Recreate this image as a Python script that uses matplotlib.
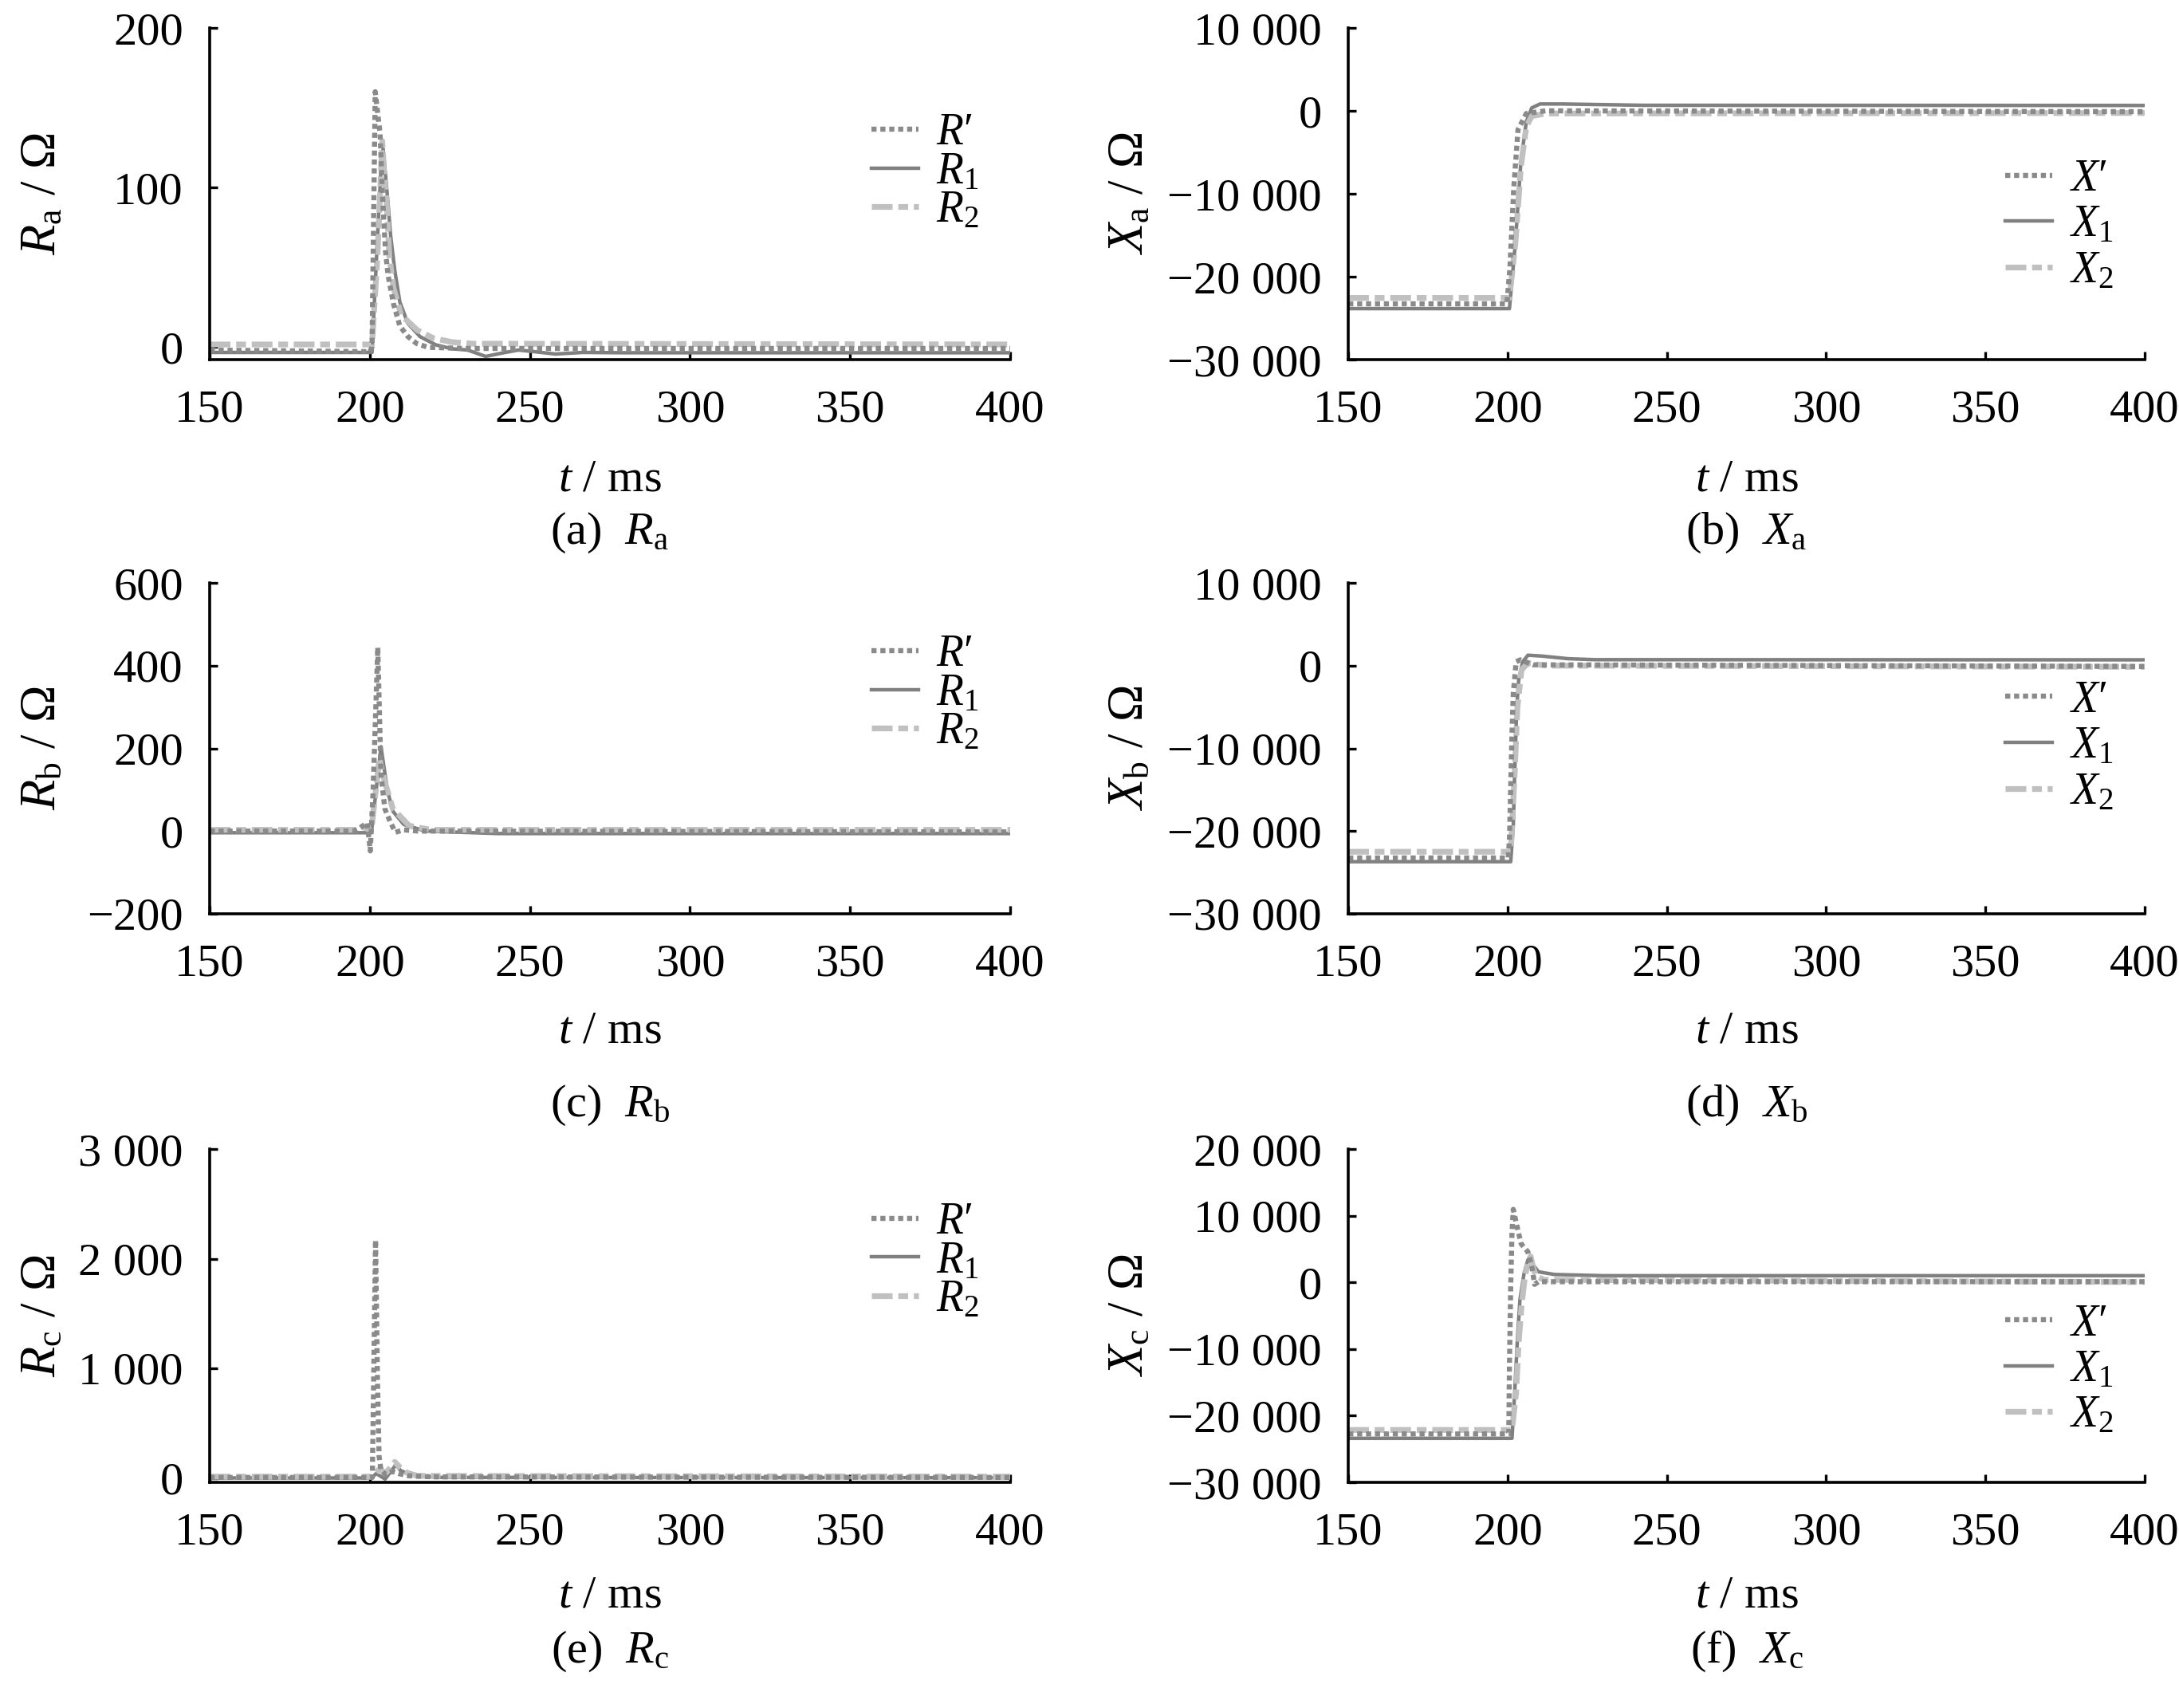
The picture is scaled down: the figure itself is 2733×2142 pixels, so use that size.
import matplotlib
matplotlib.use("Agg")
import matplotlib.pyplot as plt

plt.rcParams['font.family'] = ['Liberation Serif', 'DejaVu Serif']
plt.rcParams['mathtext.fontset'] = 'custom'
plt.rcParams['mathtext.rm'] = 'Liberation Serif'
plt.rcParams['mathtext.it'] = 'Liberation Serif:italic'
plt.rcParams['mathtext.bf'] = 'Liberation Serif:bold'

# ---------------- data ----------------
t_ticks = [150, 200, 250, 300, 350, 400]
t_ticklabels = ['150', '200', '250', '300', '350', '400']

# (a) Ra
t_a_p = [150, 200.0, 200.7, 201.7, 203.2, 204.0, 204.9, 205.7, 207.4, 209.4, 211.9, 214.7, 218.2, 230, 400]
Ra_p = [-2, -3, 0, 160, 134, 94, 60, 45, 27, 13, 6.5, 2, -0.3, -1, -1]
t_a_1 = [150, 200.7, 202.2, 203.7, 204.2, 205.7, 206.5, 207.8, 209.4, 211.9, 215.7, 220.6, 225.6, 230.6,
         236.2, 241, 246.4, 251.3, 258, 266.5, 280, 400]
Ra_1 = [-3.5, -3.5, 60, 120, 124, 90, 70, 48, 28, 14.7, 6.4, 1.3, -1.2, -2,
        -6, -4, -2, -3, -4.5, -3.5, -3.7, -3.7]
t_a_2 = [150, 200.7, 202.4, 203.9, 204.5, 205.3, 206.1, 207.4, 209.8, 214.8, 219.8, 225.6, 232.2, 400]
Ra_2 = [1.5, 1.5, 57, 129, 107, 90, 57, 37, 20, 10.5, 5.5, 3, 2, 1.5]
Ra_ticks = [0, 100, 200]
Ra_ticklabels = ['0', '100', '200']

# (b) Xa
t_b_p = [150, 199.8, 200.75, 201.95, 203.3, 205.9, 211.9, 400]
Xa_p = [-23270, -23270, -19000, -9350, -2250, -320, 0, -100]
t_b_1 = [150, 200.6, 202.5, 204.2, 205.9, 207.6, 210.2, 217.1, 242.8, 400]
Xa_1 = [-23850, -23850, -15800, -6100, -1300, 350, 830, 830, 670, 650]
t_b_2 = [150, 200.6, 202.5, 204.2, 205.9, 207.6, 211.9, 400]
Xa_2 = [-22560, -22560, -15800, -6700, -1900, -640, -320, -260]
X_ticks = [-30000, -20000, -10000, 0, 10000]
X_ticklabels = ['\u221230 000', '\u221220 000', '\u221210 000', '0', '10 000']

# (c) Rb
t_c_p = [150, 195, 197, 199.2, 200.15, 201.0, 202.5, 203.5, 204.7, 206.4, 208.0, 210.5, 215, 400]
Rb_p = [0, 0, 8, 20, -48, 90, 444, 137, 54, 22, -3, 3, 0, -2]
t_c_1 = [150, 200.5, 202.0, 203.5, 205.5, 207.2, 210.6, 217.3, 240, 400]
Rb_1 = [-4, -4, 100, 204, 99, 48, 16, 0, -6, -6]
t_c_2 = [150, 195.5, 197.5, 199.5, 200.5, 203.0, 204.7, 207.2, 212.3, 219.0, 400]
Rb_2 = [3, 3, 10, 5, 3, 176, 118, 54, 13, 3, 3]
Rb_ticks = [-200, 0, 200, 400, 600]
Rb_ticklabels = ['\u2212200', '0', '200', '400', '600']

# (d) Xb
t_d_p = [150, 200.2, 200.6, 201.0, 201.4, 201.8, 202.7, 204.0, 208.0, 400]
Xb_p = [-23250, -23250, -21070, -14640, -8220, -3400, 460, 700, 100, -100]
t_d_1 = [150, 201.0, 201.8, 202.25, 202.9, 203.5, 204.75, 206.4, 210.6, 218.9, 227.25, 400]
Xb_1 = [-23700, -23700, -19460, -13040, -5000, -1790, 460, 1260, 1160, 840, 720, 700]
t_d_2 = [150, 201.0, 202.25, 203.1, 204.4, 206.4, 212, 400]
Xb_2 = [-22500, -22500, -13040, -5000, -500, 300, 0, -150]

# (e) Rc
t_e_p = [150, 200.8, 201.8, 202.4, 202.9, 203.5, 205, 207, 209, 212, 220, 400]
Rc_p = [5, 5, 2170, 900, 200, 70, 30, 60, 40, 20, 10, 5]
t_e_1 = [150, 200.5, 202.0, 204.8, 208.2, 209.5, 212, 216, 222, 400]
Rc_1 = [0, 0, 40, -10, 122, 70, 35, 15, 5, 2]
t_e_2 = [150, 200.4, 203.2, 204.8, 207.8, 209.4, 211.5, 214.8, 400]
Rc_2 = [12, 12, 85, 37, 146, 97, 49, 19, 12]
Rc_ticks = [0, 1000, 2000, 3000]
Rc_ticklabels = ['0', '1 000', '2 000', '3 000']

# (f) Xc
t_f_p = [150, 200.4, 200.6, 201.0, 201.4, 201.8, 203.1, 204.3, 206.4, 207.7, 208.5, 209.7, 400]
Xc_p = [-22740, -22740, -12570, -610, 7360, 10950, 8160, 5770, 4570, 2180, -300, 100, 100]
t_f_1 = [150, 201.4, 202.25, 203.1, 203.9, 205.2, 206.4, 207.25, 208.1, 209.75, 214.75, 230, 400]
Xc_1 = [-23400, -23400, -16570, -8590, -2610, 1380, 3370, 3770, 2570, 1580, 1180, 1000, 1000]
t_f_2 = [150, 201.4, 202.7, 203.5, 204.5, 205.5, 206.5, 207.25, 208.0, 208.9, 211.4, 400]
Xc_2 = [-22140, -22140, -16570, -9000, -3000, 1000, 3000, 3900, 2300, 980, 380, 50]
Xc_ticks = [-30000, -20000, -10000, 0, 10000, 20000]
Xc_ticklabels = ['\u221230 000', '\u221220 000', '\u221210 000', '0', '10 000', '20 000']

# ---------------- styling ----------------
W, H = 2733, 2142
fig = plt.figure(figsize=(W / 100, H / 100), dpi=100)

C_P = '#8a8a8a'
C_1 = '#808080'
C_2 = '#c0c0c0'
TICK_FS = 42
LEG_FS = 40
YLAB_FS = 45

cols = [(263, 1267), (1691, 2690)]
rows = [(35, 451), (731, 1146), (1441, 1859)]

panels = [
    dict(r=0, c=0, tp=t_a_p, yp=Ra_p, t1=t_a_1, y1=Ra_1, t2=t_a_2, y2=Ra_2, ylim=(-8, 200),
         yt=Ra_ticks, ytl=Ra_ticklabels, sym='R', sub='a', tag='(a)', leg=(0.827, 0.565), ls=-0.06),
    dict(r=0, c=1, tp=t_b_p, yp=Xa_p, t1=t_b_1, y1=Xa_1, t2=t_b_2, y2=Xa_2, ylim=(-30000, 10000),
         yt=X_ticks, ytl=X_ticklabels, sym='X', sub='a', tag='(b)', leg=(0.825, 0.405), ls=0.1),
    dict(r=1, c=0, tp=t_c_p, yp=Rb_p, t1=t_c_1, y1=Rb_1, t2=t_c_2, y2=Rb_2, ylim=(-200, 600),
         yt=Rb_ticks, ytl=Rb_ticklabels, sym='R', sub='b', tag='(c)', leg=(0.827, 0.665), ls=-0.06),
    dict(r=1, c=1, tp=t_d_p, yp=Xb_p, t1=t_d_1, y1=Xb_1, t2=t_d_2, y2=Xb_2, ylim=(-30000, 10000),
         yt=X_ticks, ytl=X_ticklabels, sym='X', sub='b', tag='(d)', leg=(0.825, 0.505), ls=0.1),
    dict(r=2, c=0, tp=t_e_p, yp=Rc_p, t1=t_e_1, y1=Rc_1, t2=t_e_2, y2=Rc_2, ylim=(-40, 3000),
         yt=Rc_ticks, ytl=Rc_ticklabels, sym='R', sub='c', tag='(e)', leg=(0.827, 0.663), ls=-0.06),
    dict(r=2, c=1, tp=t_f_p, yp=Xc_p, t1=t_f_1, y1=Xc_1, t2=t_f_2, y2=Xc_2, ylim=(-30000, 20000),
         yt=Xc_ticks, ytl=Xc_ticklabels, sym='X', sub='c', tag='(f)', leg=(0.825, 0.337), ls=0.1),
]

xlabel_y = [601, 1293, 2001]
caption_y = [668, 1386, 2071]
ylabel_x = [54, 1418]

for p in panels:
    x0, x1 = cols[p['c']]
    y0, y1 = rows[p['r']]
    ax = fig.add_axes([x0 / W, 1 - y1 / H, (x1 - x0) / W, (y1 - y0) / H])

    l1, = ax.plot(p['t1'], p['y1'], color=C_1, lw=3.2, solid_joinstyle='round')
    l2, = ax.plot(p['t2'], p['y2'], color=C_2, lw=5.2, linestyle=(0, (3.6, 1.0, 1.7, 1.0)))
    lp, = ax.plot(p['tp'], p['yp'], color=C_P, lw=4.6, linestyle=(0, (1.0, 0.75)))

    ax.set_xlim(150, 400)
    ax.set_ylim(*p['ylim'])
    ax.set_xticks(t_ticks, t_ticklabels)
    ax.set_yticks(p['yt'], p['ytl'])
    for s in ('top', 'right'):
        ax.spines[s].set_visible(False)
    for s in ('left', 'bottom'):
        ax.spines[s].set_linewidth(2.6)
    ax.tick_params(direction='in', length=7, width=2.4, labelsize=TICK_FS)
    ax.tick_params(axis='x', pad=27)
    ax.tick_params(axis='y', pad=24)

    s = p['sym']
    labels = [r'$%s$' % s + '\u2032', r'$%s_1$' % s, r'$%s_2$' % s]
    ax.legend([lp, l1, l2], labels, loc='center left', bbox_to_anchor=p['leg'],
              frameon=False, fontsize=LEG_FS, handlelength=1.05, handletextpad=0.4,
              labelspacing=p['ls'], borderpad=0, borderaxespad=0)

    xc = (x0 + x1) / 2 / W
    fig.text(xc, 1 - xlabel_y[p['r']] / H, r'$t$ / ms', ha='center', va='center', fontsize=TICK_FS)
    fig.text(xc, 1 - caption_y[p['r']] / H, p['tag'] + r'  $%s_{\mathrm{%s}}$' % (s, p['sub']),
             ha='center', va='center', fontsize=TICK_FS)
    fig.text(ylabel_x[p['c']] / W, 1 - (y0 + y1) / 2 / H,
             r'$%s_{\mathrm{%s}}$' % (s, p['sub']) + ' / \u03a9',
             ha='center', va='center', rotation=90, fontsize=YLAB_FS)

fig.savefig('out.png', dpi=100)
